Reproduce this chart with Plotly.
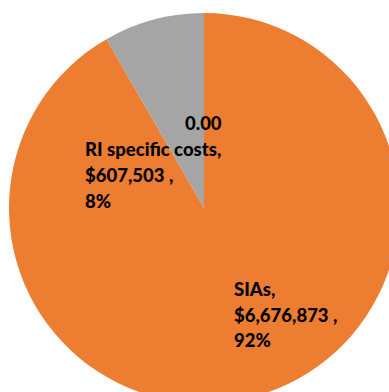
import plotly.graph_objects as go

# Cost breakdown (SIAs first so the small slice ends at 12 o'clock)
labels = ["SIAs", "RI specific costs"]
values = [6676873, 607503]
colors = ["#ED7D31", "#A5A5A5"]
zero_label = "0.00"

W, H = 408, 416
total = sum(values)

fig = go.Figure(
    go.Pie(
        labels=labels,
        values=values,
        sort=False,
        direction="clockwise",
        marker=dict(colors=colors, line=dict(width=0)),
        textinfo="none",
        hoverinfo="label+value+percent",
        showlegend=False,
        domain=dict(x=[9 / W, 1 - 9 / W], y=[0, 1]),
    )
)

FONT = dict(family="Lato, Carlito, sans-serif", size=18.5, color="black", weight=900)


def add_lines(lines, px, baselines):
    for text, by in zip(lines, baselines):
        fig.add_annotation(
            x=px / W, y=1 - (by - 6) / H, xref="paper", yref="paper",
            xanchor="left", yanchor="middle", showarrow=False,
            text=text, font=FONT,
        )


def label_lines(i):
    pct = round(100 * values[i] / total)
    return [f"{labels[i]},", f"${values[i]:,} ,", f"{pct}%"]


add_lines(label_lines(1), 83, [155, 181, 207])
add_lines(label_lines(0), 232, [295, 321, 346])

# Zero-valued label near the top of the pie
fig.add_annotation(
    x=203 / W, y=1 - (129 - 6) / H, xref="paper", yref="paper",
    xanchor="center", yanchor="middle", showarrow=False,
    text=zero_label, font=FONT,
)

fig.update_layout(
    width=W, height=H,
    margin=dict(l=0, r=0, t=0, b=0),
    paper_bgcolor="white",
    plot_bgcolor="white",
)

fig.write_html("out.html", post_script="document.body.style.overflow='hidden';")
